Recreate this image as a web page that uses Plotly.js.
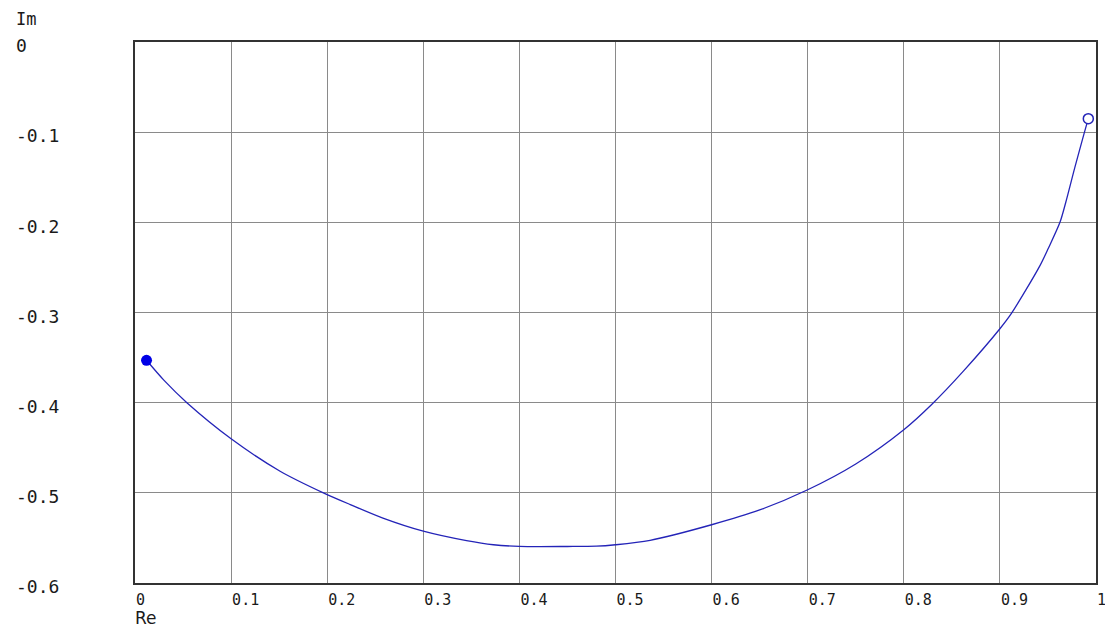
<!DOCTYPE html>
<html>
<head>
<meta charset="utf-8">
<script src="https://cdn.plot.ly/plotly-3.0.1.min.js"></script>
<style>html,body{margin:0;padding:0;background:#fff;}#chart{width:1105px;height:636px;}</style>
</head>
<body>
<div id="chart"></div>
<script>
// Nyquist curve
var reValues = [0.012, 0.030, 0.054, 0.100, 0.151, 0.196, 0.224, 0.258, 0.300, 0.345, 0.373, 0.400, 0.450, 0.480, 0.500, 0.536, 0.600, 0.650, 0.700, 0.750, 0.800, 0.829, 0.862, 0.900, 0.912, 0.9417, 0.9503, 0.9625, 0.9685, 0.978, 0.988, 0.992];
var imValues = [-0.353, -0.375, -0.400, -0.440, -0.476, -0.500, -0.513, -0.528, -0.5425, -0.553, -0.5576, -0.5594, -0.5595, -0.5592, -0.5576, -0.5527, -0.5354, -0.519, -0.4966, -0.468, -0.430, -0.402, -0.365, -0.318, -0.301, -0.248, -0.229, -0.200, -0.178, -0.139, -0.100, -0.085];
var startPoint = {re: [0.012], im: [-0.353]};
var endPoint = {re: [0.992], im: [-0.085]};

var xTickVals = [0, 0.1, 0.2, 0.3, 0.4, 0.5, 0.6, 0.7, 0.8, 0.9, 1];
var xTickText = ['0', '0.1', '0.2', '0.3', '0.4', '0.5', '0.6', '0.7', '0.8', '0.9', '1'];
var yTickVals = [0, -0.1, -0.2, -0.3, -0.4, -0.5, -0.6];
var yTickText = ['0', '-0.1', '-0.2', '-0.3', '-0.4', '-0.5', '-0.6'];

function padRight(s, n) { while (s.length < n) s += '\u00a0'; return s; }
var yTickPadded = yTickText.map(function (t) { return padRight(t, 4); });

var lineColor = '#2424b8';

var traces = [
  {x: reValues, y: imValues, type: 'scatter', mode: 'lines', line: {color: lineColor, width: 1.3, shape: 'spline', smoothing: 0.8}, hoverinfo: 'skip', showlegend: false},
  {x: startPoint.re, y: startPoint.im, type: 'scatter', mode: 'markers', marker: {symbol: 'circle', size: 11, color: '#0000e6', line: {color: '#0000e6', width: 0}}, showlegend: false},
  {x: endPoint.re, y: endPoint.im, type: 'scatter', mode: 'markers', marker: {symbol: 'circle', size: 10, color: '#ffffff', line: {color: lineColor, width: 1.5}}, showlegend: false}
];

var layout = {
  width: 1105, height: 636,
  margin: {l: 135, r: 9, t: 42, b: 53, pad: 0},
  paper_bgcolor: '#ffffff', plot_bgcolor: '#ffffff',
  showlegend: false,
  xaxis: {
    range: [0, 1], tickmode: 'array', tickvals: xTickVals, ticktext: xTickText,
    showgrid: true, gridcolor: '#8a8a8a', gridwidth: 1, zeroline: false,
    showline: true, linecolor: '#333333', linewidth: 2, mirror: true,
    ticks: '', ticklabelposition: 'outside right', ticklabelstandoff: 2, ticklabeloverflow: 'allow',
    tickfont: {family: 'DejaVu Sans Mono', size: 15, color: '#1a1a1a'},
    fixedrange: true
  },
  yaxis: {
    range: [-0.6, 0], tickmode: 'array', tickvals: yTickVals, ticktext: yTickPadded,
    showgrid: true, gridcolor: '#8a8a8a', gridwidth: 1, zeroline: false,
    showline: true, linecolor: '#333333', linewidth: 2, mirror: true,
    ticks: '', ticklabelstandoff: 70, ticklabelshift: 4,
    tickfont: {family: 'DejaVu Sans Mono', size: 18, color: '#1a1a1a'},
    fixedrange: true
  },
  annotations: [
    {text: 'Im', xref: 'paper', yref: 'paper', x: -121/961, y: 1 + 23/541, xanchor: 'left', yanchor: 'middle', showarrow: false, font: {family: 'DejaVu Sans Mono', size: 17, color: '#1a1a1a'}},
    {text: 'Re', xref: 'paper', yref: 'paper', x: -2/961, y: -35/541, xanchor: 'left', yanchor: 'middle', showarrow: false, font: {family: 'DejaVu Sans', size: 17, color: '#1a1a1a'}}
  ]
};

Plotly.newPlot('chart', traces, layout, {displayModeBar: false, staticPlot: true});
</script>
</body>
</html>
